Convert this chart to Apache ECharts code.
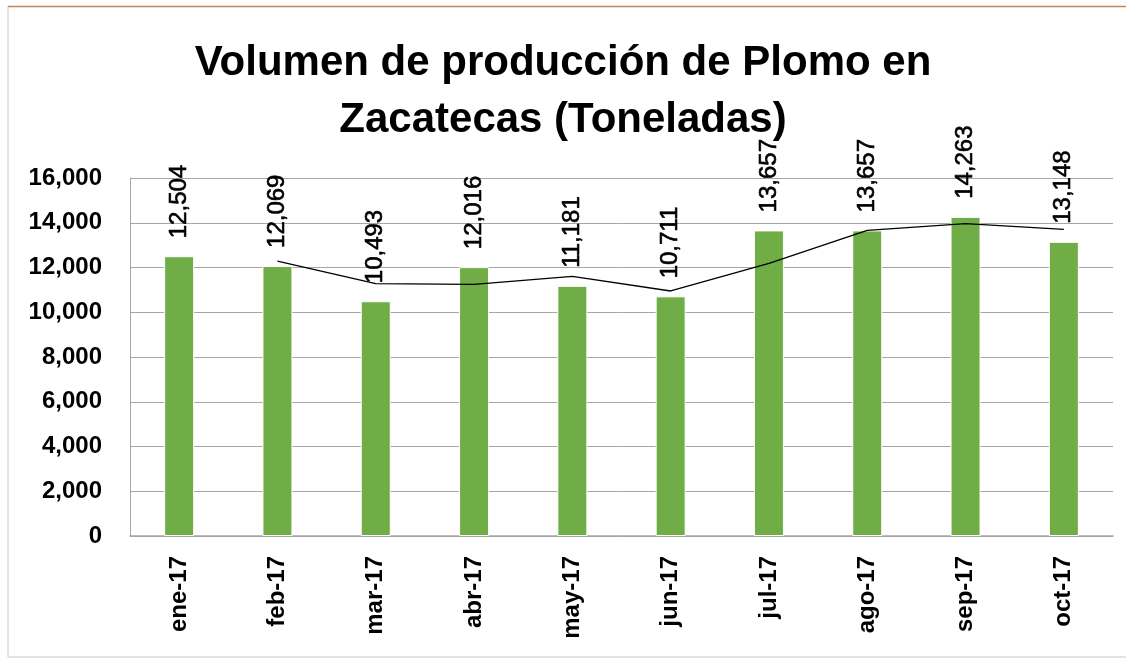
<!DOCTYPE html>
<html>
<head>
<meta charset="utf-8">
<script src="https://cdn.jsdelivr.net/npm/echarts@6/dist/echarts.min.js"></script>
<style>
html,body{margin:0;padding:0;background:#fff;}
#chart{width:1126px;height:658px;}
</style>
</head>
<body>
<div id="chart"></div>
<script>
const titleText = 'Volumen de producción de Plomo en\nZacatecas (Toneladas)';
const categories = ['ene-17','feb-17','mar-17','abr-17','may-17','jun-17','jul-17','ago-17','sep-17','oct-17'];
const produccion = [12504, 12069, 10493, 12016, 11181, 10711, 13657, 13657, 14263, 13148];
// trend line values (starts at feb-17)
const tendencia = [null, 12290, 11280, 11250, 11600, 10950, 12180, 13660, 13960, 13700];
const yTicks = {min: 0, max: 16000, interval: 2000};

const chart = echarts.init(document.getElementById('chart'));
chart.setOption({
  animation: false,
  backgroundColor: '#ffffff',
  title: {
    text: titleText,
    left: 'center',
    top: 30,
    textStyle: {fontFamily: 'Liberation Sans', fontWeight: 'bold', fontSize: 42, lineHeight: 57, color: '#000'}
  },
  graphic: [
    {type: 'line', shape: {x1: 8, y1: 657, x2: 1126, y2: 657}, style: {stroke: '#c8c8c8', lineWidth: 1}},
    {type: 'line', shape: {x1: 8, y1: 6, x2: 8, y2: 657}, style: {stroke: '#c8c8c8', lineWidth: 1}},
    {type: 'line', shape: {x1: 8, y1: 6.5, x2: 1126, y2: 6.5}, style: {stroke: '#c0875a', lineWidth: 1.5}}
  ],
  grid: {left: 130, right: 13, top: 178, bottom: 122, containLabel: false},
  xAxis: {
    type: 'category',
    data: categories,
    axisLine: {show: true, lineStyle: {color: '#a6a6a6', width: 1.5}},
    axisTick: {show: false},
    axisLabel: {rotate: 90, margin: 20, fontFamily: 'Liberation Sans', fontWeight: 'bold', fontSize: 24, color: '#000'}
  },
  yAxis: {
    type: 'value',
    min: yTicks.min, max: yTicks.max, interval: yTicks.interval,
    axisLine: {show: true, lineStyle: {color: '#a6a6a6', width: 1}},
    axisTick: {show: false},
    splitLine: {lineStyle: {color: '#a6a6a6', width: 1}},
    axisLabel: {
      margin: 28, fontFamily: 'Liberation Sans', fontWeight: 'bold', fontSize: 24, color: '#000',
      formatter: v => v.toLocaleString('en-US')
    }
  },
  series: [
    {
      type: 'bar',
      data: produccion,
      barWidth: 30,
      itemStyle: {color: '#70ad47', borderColor: '#ffffff', borderWidth: 1},
      label: {
        show: true, position: 'top', rotate: 90, distance: 18,
        align: 'left', verticalAlign: 'middle',
        fontFamily: 'Liberation Sans', fontSize: 24, color: '#000',
        textBorderColor: '#000', textBorderWidth: 0.6,
        formatter: p => p.value.toLocaleString('en-US')
      },
      z: 2
    },
    {
      type: 'line',
      data: tendencia,
      symbol: 'none',
      lineStyle: {color: '#000', width: 1.3},
      z: 3
    }
  ]
});
</script>
</body>
</html>
